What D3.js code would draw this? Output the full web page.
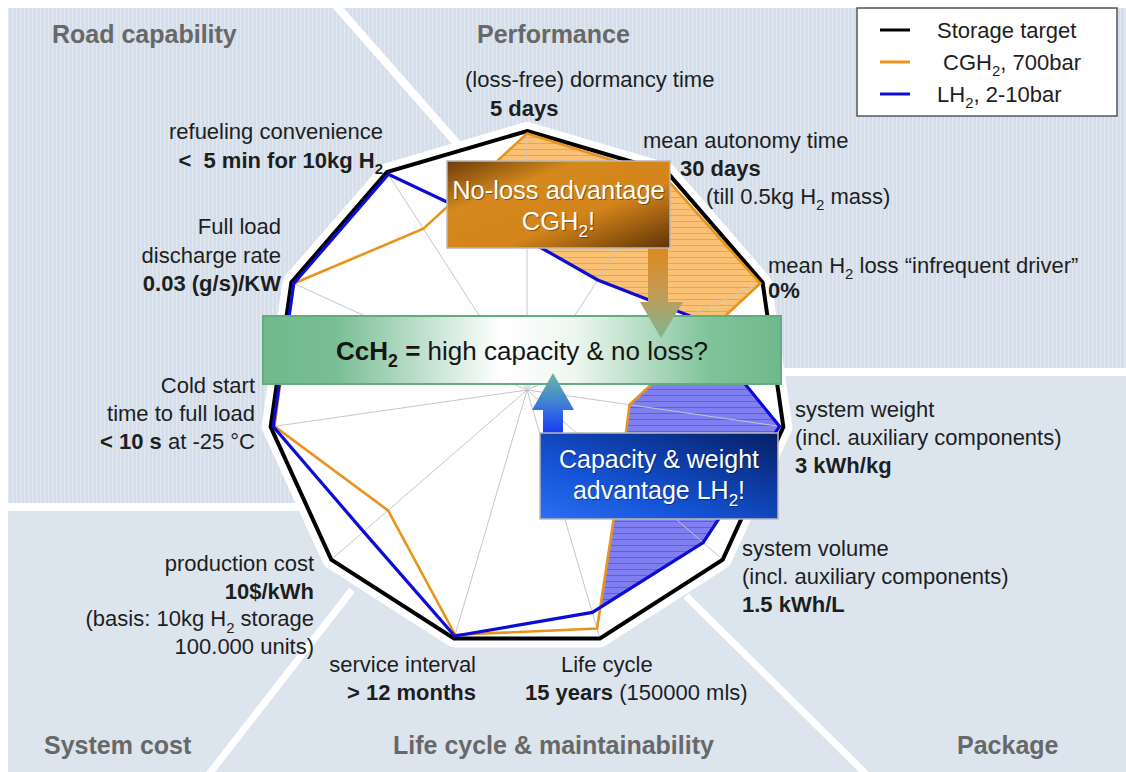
<!DOCTYPE html>
<html lang="en">
<head>
<meta charset="UTF-8">
<title>Hydrogen storage targets</title>
<script src="https://d3js.org/d3.v7.min.js"></script>
<style>
  body { margin: 0; background: #fff; }
  svg { display: block; font-family: "Liberation Sans", Arial, sans-serif; }
  text { white-space: pre; }
</style>
</head>
<body>
<svg id="chart" width="1126" height="772"></svg>
<script>
// axes, clockwise from the top
const axes = ["dormancy", "autonomy", "H2 loss", "weight", "volume", "life cycle",
              "service", "cost", "cold start", "discharge", "refueling"];
// normalised to the storage target (= 1)
const target = [1, 1, 1, 1, 1, 1, 1, 1, 1, 1, 1];
const cgh2   = [0.99, 0.98, 0.99, 0.40, 0.48, 0.96, 0.985, 0.71, 0.985, 0.99, 0.74];
const lh2    = [0.58, 0.505, 0.69, 0.985, 0.90, 0.895, 0.99, 0.835, 0.99, 0.99, 0.99];

// "*" toggles bold, "_" toggles subscript
const axisLabels = [
  ["(loss-free) dormancy time", "*5 days*"],
  ["mean autonomy time", "*30 days*", "(till 0.5kg H_2_ mass)"],
  ["mean H_2_ loss \u201cinfrequent driver\u201d", "*0%*"],
  ["system weight", "(incl. auxiliary components)", "*3 kWh/kg*"],
  ["system volume", "(incl. auxiliary components)", "*1.5 kWh/L*"],
  ["Life cycle", "*15 years* (150000 mls)"],
  ["service interval", "*> 12 months*"],
  ["production cost", "*10$/kWh*", "(basis: 10kg H_2_ storage", "100.000 units)"],
  ["Cold start", "time to full load", "*< 10 s* at -25 \u00b0C"],
  ["Full load", "discharge rate", "*0.03 (g/s)/KW*"],
  ["refueling convenience", "*<  5 min for 10kg H_2_*"]
];
const sections = ["Road capability", "Performance", "System cost", "Life cycle & maintainability", "Package"];
const legendItems = ["Storage target", " CGH_2_, 700bar", "LH_2_, 2-10bar"];
const seriesColors = ["#000000", "#e8931c", "#0c0cd6"];

// label placement (first baseline, per-line x)
const labelPos = [
  { x: [465, 490], y: 87, lh: 29, a: "start" },
  { x: [643, 680, 706], y: 148, lh: 28, a: "start" },
  { x: [768, 768], y: 273, lh: 25, a: "start" },
  { x: [795, 795, 795], y: 417, lh: 28, a: "start" },
  { x: [742, 742, 742], y: 556, lh: 28, a: "start" },
  { x: [561, 525], y: 672, lh: 28, a: "start" },
  { x: [476, 476], y: 672, lh: 28, a: "end" },
  { x: [314, 314, 314, 314], y: 571, lh: 27.7, a: "end" },
  { x: [255, 255, 255], y: 393, lh: 28, a: "end" },
  { x: [281, 281, 281], y: 234, lh: 28.5, a: "end" },
  { x: [383, 383], y: 139, lh: 29, a: "end" }
];
const sectionPos = [[52, 43], [477, 43], [44, 754], [393, 754], [957, 754]];

const W = 1126, H = 772, cx = 527, cy = 390, R = 259;
const FS = 22;
const n = axes.length;
const svg = d3.select("#chart");
const defs = svg.append("defs");

const r = d3.scaleLinear().domain([0, 1]).range([0, R]);
const ang = d3.scaleLinear().domain([0, n]).range([0, 2 * Math.PI]);
const radar = d3.lineRadial()
  .angle((d, i) => ang(i))
  .radius(d => r(d))
  .curve(d3.curveLinearClosed);
const pt = (v, i) => [r(v) * Math.sin(ang(i)), -r(v) * Math.cos(ang(i))];

// angle where the two series cross on edge i -> i+1
function crossAngle(i) {
  const j = (i + 1) % n;
  const p1 = pt(cgh2[i], i), p2 = pt(cgh2[j], j), q1 = pt(lh2[i], i), q2 = pt(lh2[j], j);
  const dx = p2[0] - p1[0], dy = p2[1] - p1[1], ex = q2[0] - q1[0], ey = q2[1] - q1[1];
  const den = dx * ey - dy * ex;
  const s = ((q1[0] - p1[0]) * ey - (q1[1] - p1[1]) * ex) / den;
  const x = p1[0] + s * dx, y = p1[1] + s * dy;
  return Math.atan2(x, -y);
}

function rich(sel, str, fs) {
  let bold = false, sub = false, buf = "", shifted = false;
  const flush = () => {
    if (!buf) return;
    const ts = sel.append("tspan").text(buf);
    if (bold) ts.attr("font-weight", "bold");
    if (sub) {
      ts.attr("font-size", fs * 0.68);
      if (!shifted) { ts.attr("dy", fs * 0.28); shifted = true; }
    } else if (shifted) { ts.attr("dy", -fs * 0.28); shifted = false; }
    buf = "";
  };
  for (const ch of str) {
    if (ch === "*") { flush(); bold = !bold; }
    else if (ch === "_") { flush(); sub = !sub; }
    else buf += ch;
  }
  flush();
}

// ---- defs: patterns & gradients
const stripes = defs.append("pattern").attr("id", "stripes")
  .attr("patternUnits", "userSpaceOnUse").attr("width", 4).attr("height", 10);
stripes.append("rect").attr("width", 4).attr("height", 10).attr("fill", "#d4deea");
stripes.append("rect").attr("width", 1.5).attr("height", 10).attr("fill", "#e0e7f0");

function hatch(id, bg, fg) {
  const p = defs.append("pattern").attr("id", id)
    .attr("patternUnits", "userSpaceOnUse").attr("width", 10).attr("height", 6);
  p.append("rect").attr("width", 10).attr("height", 6).attr("fill", bg);
  p.append("rect").attr("y", 5).attr("width", 10).attr("height", 1).attr("fill", fg);
}
hatch("hatchO", "#fbc174", "#eba44a");
hatch("hatchB", "#7f7ff2", "#5d5de6");

function grad(id, x1, y1, x2, y2, stops) {
  const g = defs.append("linearGradient").attr("id", id)
    .attr("x1", x1).attr("y1", y1).attr("x2", x2).attr("y2", y2);
  stops.forEach(s => g.append("stop").attr("offset", s[0]).attr("stop-color", s[1]));
}
grad("gOrange", 0, 0, 1, 1, [[0, "#6b3c0a"], [0.3, "#d5881d"], [0.62, "#d3841a"], [1, "#5e3308"]]);
grad("gBlue", 0, 1, 1, 0, [[0, "#2b6ff2"], [0.35, "#1553d6"], [0.75, "#0b3392"], [1, "#061f62"]]);
grad("gGreen", 0, 0, 1, 0, [[0, "#6fb98c"], [0.14, "#79be95"], [0.46, "#ffffff"], [0.6, "#eef7f1"], [0.86, "#80c39a"], [1, "#6fb98c"]]);
grad("gArrowO", 0, 0, 0, 1, [[0, "#dc8a1e"], [0.5, "#c39a55"], [1, "#7fb592"]]);
grad("gArrowB", 0, 0, 0, 1, [[0, "#6cb9a0"], [0.5, "#3d7fd6"], [1, "#1638f2"]]);

// ---- background panels
svg.append("rect").attr("x", 8).attr("y", 8).attr("width", W - 8).attr("height", H - 8)
  .attr("fill", "#dce5ee");
svg.append("path").attr("d", `M8,8H${W}V370H${cx}V506H8Z`).attr("fill", "url(#stripes)");
const seps = [[[8, 507], [300, 507], 8], [[770, 372], [W, 372], 8], [[333, 2], [482, 172], 8],
              [[352, 590], [206, 778], 7], [[686, 596], [870, 778], 7]];
svg.append("g").selectAll("line").data(seps).join("line")
  .attr("x1", d => d[0][0]).attr("y1", d => d[0][1])
  .attr("x2", d => d[1][0]).attr("y2", d => d[1][1])
  .attr("stroke", "#fff").attr("stroke-width", d => d[2]);

sections.forEach((s, i) => {
  svg.append("text").attr("x", sectionPos[i][0]).attr("y", sectionPos[i][1])
    .attr("font-size", 25).attr("font-weight", "bold").attr("fill", "#686868").text(s);
});

// ---- radar
const g = svg.append("g").attr("transform", `translate(${cx},${cy})`);
g.append("path").attr("d", radar(target))
  .attr("fill", "#fff").attr("stroke", "#fff").attr("stroke-width", 18).attr("stroke-linejoin", "round");

const wedge = d3.arc().innerRadius(0).outerRadius(R * 1.3);
defs.append("clipPath").attr("id", "clipO")
  .append("path").attr("d", wedge({ startAngle: crossAngle(n - 1), endAngle: crossAngle(2) }));
defs.append("clipPath").attr("id", "clipB")
  .append("path").attr("d", wedge({ startAngle: crossAngle(2), endAngle: crossAngle(4) }));
const xorPath = radar(cgh2) + radar(lh2);
g.append("path").attr("d", xorPath).attr("fill-rule", "evenodd")
  .attr("fill", "url(#hatchO)").attr("clip-path", "url(#clipO)");
g.append("path").attr("d", xorPath).attr("fill-rule", "evenodd")
  .attr("fill", "url(#hatchB)").attr("clip-path", "url(#clipB)");

g.append("g").selectAll("line").data(axes).join("line")
  .attr("x1", 0).attr("y1", 0)
  .attr("x2", (d, i) => pt(1, i)[0]).attr("y2", (d, i) => pt(1, i)[1])
  .attr("stroke", "#c6c6c6").attr("stroke-width", 1);

[[target, 4], [cgh2, 2.6], [lh2, 3.2]].forEach((s, k) => {
  g.append("path").attr("d", radar(s[0])).attr("fill", "none")
    .attr("stroke", seriesColors[k]).attr("stroke-width", s[1]).attr("stroke-linejoin", "miter");
});

// ---- axis labels
axisLabels.forEach((lines, i) => {
  const p = labelPos[i];
  lines.forEach((ln, j) => {
    const t = svg.append("text").attr("x", p.x[j]).attr("y", p.y + j * p.lh)
      .attr("text-anchor", p.a).attr("font-size", FS).attr("fill", "#1e1e1e");
    rich(t, ln, FS);
  });
});

// ---- callouts
svg.append("rect").attr("x", 263).attr("y", 316).attr("width", 518).attr("height", 68)
  .attr("fill", "url(#gGreen)").attr("stroke", "#62ad80").attr("stroke-width", 2);
const bt = svg.append("text").attr("x", 522).attr("y", 360).attr("text-anchor", "middle")
  .attr("font-size", 26).attr("fill", "#151515");
rich(bt, "*CcH_2_ =* high capacity & no loss?", 26);

svg.append("path").attr("d", "M648,248H668V302H683L661,338L640,302H648Z").attr("fill", "url(#gArrowO)");
svg.append("path").attr("d", "M543,434V410H532L553,373L574,410H563V434Z").attr("fill", "url(#gArrowB)");

function box(x, y, w, h, fill, lines, fs, base) {
  svg.append("rect").attr("x", x).attr("y", y).attr("width", w).attr("height", h)
    .attr("fill", fill).attr("stroke", "#b9b9b9").attr("stroke-width", 1.5);
  lines.forEach((ln, j) => {
    const yy = base + j * 31;
    const sh = svg.append("text").attr("x", x + w / 2 + 1).attr("y", yy + 1).attr("text-anchor", "middle")
      .attr("font-size", fs).attr("fill", "#000").attr("opacity", 0.35);
    rich(sh, ln, fs);
    const t = svg.append("text").attr("x", x + w / 2).attr("y", yy).attr("text-anchor", "middle")
      .attr("font-size", fs).attr("fill", "#fff");
    rich(t, ln, fs);
  });
}
box(447, 161, 223, 87, "url(#gOrange)", ["No-loss advantage", "CGH_2_!"], 25.5, 199);
box(540, 433, 238, 86, "url(#gBlue)", ["Capacity & weight", "advantage LH_2_!"], 25, 468);

// ---- legend
const lg = svg.append("g");
lg.append("rect").attr("x", 857).attr("y", 8).attr("width", 260).attr("height", 108)
  .attr("fill", "#fff").attr("stroke", "#555").attr("stroke-width", 1.5);
legendItems.forEach((s, i) => {
  const y = 30 + i * 32;
  lg.append("line").attr("x1", 880).attr("x2", 910).attr("y1", y).attr("y2", y)
    .attr("stroke", seriesColors[i]).attr("stroke-width", 3);
  const t = lg.append("text").attr("x", 937).attr("y", y + 8).attr("font-size", FS).attr("fill", "#1e1e1e");
  rich(t, s, FS);
});
</script>
</body>
</html>
